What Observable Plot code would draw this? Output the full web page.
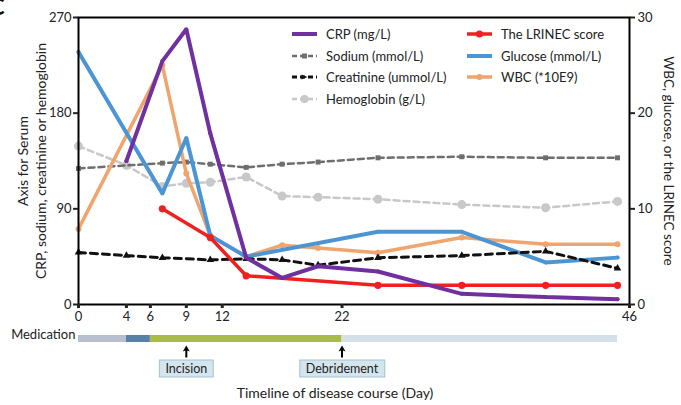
<!DOCTYPE html>
<html><head><meta charset="utf-8">
<script src="https://cdn.jsdelivr.net/npm/d3@7"></script>
<script src="https://cdn.jsdelivr.net/npm/@observablehq/plot@0.6"></script>
<style>
body{margin:0;background:#fff;font-family:Lato,sans-serif;}
#wrap{position:relative;width:681px;height:405px;overflow:hidden;}
.li{position:absolute;display:flex;align-items:center;white-space:nowrap;font-size:13px;color:#222;height:16px;}
.li svg{margin-right:9px;}
#panel{position:absolute;left:-10px;top:-7px;font:bold 22px Lato,sans-serif;color:#111;}
</style></head><body><div id="wrap"><div id="panel">C</div></div>
<script>
// ---------- data ----------
const xTicks = [0, 4, 6, 9, 12, 22, 46];
const leftTicks = [0, 90, 180, 270];
const rightTicks = [0, 10, 20, 30];

// left axis series
const crpDays = [4, 7, 9, 11, 14, 17, 20, 25, 32, 39, 45];
const crpVals = [135, 229, 259, 161, 44, 25, 36, 31, 10, 7, 5];
const sodiumDays = [0, 7, 9, 11, 14, 17, 20, 25, 32, 39, 45];
const sodiumVals = [128, 133, 134, 132, 129, 132, 134, 138, 139, 138, 138];
const creatDays = [0, 4, 7, 11, 14, 17, 20, 25, 32, 39, 45];
const creatVals = [49, 46, 44, 42, 43, 42, 37, 44, 46, 50, 34];
const hemoDays = [0, 4, 7, 9, 11, 14, 17, 20, 25, 32, 39, 45];
const hemoVals = [149, 131, 111, 114, 115, 120, 102, 101, 99, 94, 91, 97];

// right axis series
const lrinecDays = [7, 11, 14, 25, 32, 39, 45];
const lrinecVals = [10, 7, 3, 2, 2, 2, 2];
const glucoseDays = [0, 7, 9, 11, 14, 25, 32, 39, 45];
const glucoseVals = [26.4, 11.6, 17.4, 7.2, 5.0, 7.6, 7.6, 4.4, 4.9];
const wbcDays = [0, 7, 9, 11, 14, 17, 20, 25, 32, 39, 45];
const wbcVals = [7.9, 25.0, 13.7, 7.2, 5.0, 6.2, 5.9, 5.4, 7.0, 6.3, 6.3];

// medication timeline
const medStarts = [0, 4, 6, 22];
const medEnds = [4, 6, 22, 45];
const medPhase = ["p1", "p2", "p3", "p4"];
const eventDays = [9, 22];
const eventLabels = ["Incision", "Debridement"];

// ---------- styles ----------
const RATIO = 270 / 30; // right axis -> left axis units
const medColors = {p1: "#b8c0cf", p2: "#5a80a6", p3: "#a8bc46", p4: "#d4e0e8"};
const series = [
  {name: "Hemoglobin (g/L)", days: hemoDays, vals: hemoVals, k: 1, color: "#c8c8c8", w: 2.5, dash: "6,4", sym: "circle", r: 4.5},
  {name: "Sodium (mmol/L)", days: sodiumDays, vals: sodiumVals, k: 1, color: "#6e6e6e", w: 2.5, dash: "6,4", sym: "square", r: 2.8},
  {name: "WBC (*10E9)", days: wbcDays, vals: wbcVals, k: RATIO, color: "#f0a56e", w: 3.5, dash: null, sym: "circle", r: 3},
  {name: "Glucose (mmol/L)", days: glucoseDays, vals: glucoseVals, k: RATIO, color: "#4c95d5", w: 4, dash: null, sym: "circle", r: 2},
  {name: "Creatinine (ummol/L)", days: creatDays, vals: creatVals, k: 1, color: "#111111", w: 3, dash: "7,5", sym: "triangle", r: 2.8},
  {name: "The LRINEC score", days: lrinecDays, vals: lrinecVals, k: RATIO, color: "#ee2020", w: 3.5, dash: null, sym: "circle", r: 3.6},
  {name: "CRP (mg/L)", days: crpDays, vals: crpVals, k: 1, color: "#7030a0", w: 4, dash: null, sym: "circle", r: 2}
];

const dataMarks = [];
for (const s of series) {
  const rows = s.days.map((d, i) => ({day: d, value: s.vals[i] * s.k}));
  dataMarks.push(Plot.line(rows, {x: "day", y: "value", stroke: s.color, strokeWidth: s.w, strokeDasharray: s.dash || undefined, strokeLinejoin: "miter"}));
  dataMarks.push(Plot.dot(rows, {x: "day", y: "value", fill: s.color, r: s.r, symbol: s.sym}));
}

const medication = medStarts.map((s, i) => ({start: s, end: medEnds[i], phase: medPhase[i]}));
const events = eventDays.map((d, i) => ({day: d, label: eventLabels[i]}));

const arrowShape = {
  draw(ctx, l) {
    ctx.moveTo(-1, 0); ctx.lineTo(-1, -l + 5); ctx.lineTo(-3.5, -l + 6);
    ctx.lineTo(0, -l); ctx.lineTo(3.5, -l + 6); ctx.lineTo(1, -l + 5);
    ctx.lineTo(1, 0); ctx.closePath();
  }
};

const chart = Plot.plot({
  width: 681, height: 405,
  marginLeft: 78, marginRight: 52, marginTop: 17, marginBottom: 101,
  x: {domain: [0, 46]},
  y: {domain: [0, 270]},
  color: {type: "identity"},
  style: {fontFamily: "Lato, sans-serif", fontSize: "12.5px", color: "#222", background: "#fff"},
  marks: [
    ...dataMarks,
    Plot.frame({stroke: "#000", strokeWidth: 2}),
    Plot.axisX(xTicks, {anchor: "bottom", tickSize: 4, tickPadding: 3, strokeWidth: 3, label: null, fontSize: 13}),
    Plot.axisY(leftTicks, {anchor: "left", tickSize: 5, tickPadding: 2, strokeWidth: 2, label: null, fontSize: 13}),
    Plot.axisY(rightTicks.map(v => v * RATIO), {anchor: "right", tickSize: 5, tickPadding: 3, strokeWidth: 2, label: null, fontSize: 13, tickFormat: v => String(Math.round(v / RATIO))}),
    Plot.text(["Axis for Serum\nCRP, sodium, creatinine or hemoglobin"], {frameAnchor: "left", textAnchor: "middle", lineAnchor: "middle", rotate: -90, dx: -47, lineHeight: 1.25, fontSize: 14}),
    Plot.text(["WBC, glucose, or the LRINEC score"], {frameAnchor: "right", textAnchor: "middle", lineAnchor: "middle", rotate: 90, dx: 39, fontSize: 13.5}),
    Plot.text(["Timeline of disease course (Day)"], {frameAnchor: "bottom", dx: -19, dy: 93, fontSize: 14}),
    Plot.text(["Medication"], {frameAnchor: "bottom-left", dx: -3, dy: 34, textAnchor: "end", fontSize: 13}),
    Plot.ruleY(medication, {x1: "start", x2: "end", y: 0, dy: 34, stroke: d => medColors[d.phase], strokeWidth: 7}),
    Plot.vector(events, {x: "day", y: 0, dy: 53, length: 12, anchor: "start", shape: arrowShape, fill: "#000", stroke: "none"}),
    Plot.text(events, {x: "day", y: 0, dy: 64.5, text: "label", fontSize: 12.5, className: "evt"})
  ]
});
document.getElementById("wrap").appendChild(chart);

// boxes behind event labels
document.querySelectorAll("g.evt text").forEach(t => {
  const b = t.getBBox();
  const r = document.createElementNS("http://www.w3.org/2000/svg", "rect");
  r.setAttribute("x", b.x - 6); r.setAttribute("y", b.y - 1);
  r.setAttribute("width", b.width + 12); r.setAttribute("height", b.height + 2);
  if (t.getAttribute("transform")) r.setAttribute("transform", t.getAttribute("transform"));
  r.setAttribute("fill", "#d5e5ed"); r.setAttribute("stroke", "#a3c2d3"); r.setAttribute("stroke-width", "1");
  t.parentNode.insertBefore(r, t);
});

// legend
const legendItems = [
  {s: "CRP (mg/L)", col: 0, row: 0}, {s: "Sodium (mmol/L)", col: 0, row: 1},
  {s: "Creatinine (ummol/L)", col: 0, row: 2}, {s: "Hemoglobin (g/L)", col: 0, row: 3},
  {s: "The LRINEC score", col: 1, row: 0}, {s: "Glucose (mmol/L)", col: 1, row: 1},
  {s: "WBC (*10E9)", col: 1, row: 2}
];
const colX = [292, 467], rowY = [34, 55.5, 77, 98.5];
const wrap = document.getElementById("wrap");
for (const it of legendItems) {
  const s = series.find(d => d.name === it.s);
  const div = document.createElement("div");
  div.className = "li";
  div.style.left = colX[it.col] + "px";
  div.style.top = (rowY[it.row] - 8) + "px";
  const w = 25;
  let marker;
  if (s.sym === "square") marker = `<rect x="${w/2-2.5}" y="2.5" width="5" height="5" fill="${s.color}"/>`;
  else if (s.sym === "triangle") marker = `<path d="M${w/2-3},7.5L${w/2+3},5L${w/2-3},2.5Z" fill="${s.color}"/>`;
  else marker = `<circle cx="${w/2}" cy="5" r="${Math.min(s.r, 4)}" fill="${s.color}"/>`;
  div.innerHTML = `<svg width="${w}" height="10"><line x1="0" x2="${w}" y1="5" y2="5" stroke="${s.color}" stroke-width="${s.w}" ${s.dash ? `stroke-dasharray="5,3"` : ""}/>${marker}</svg><span>${s.name}</span>`;
  wrap.appendChild(div);
}
</script></body></html>
